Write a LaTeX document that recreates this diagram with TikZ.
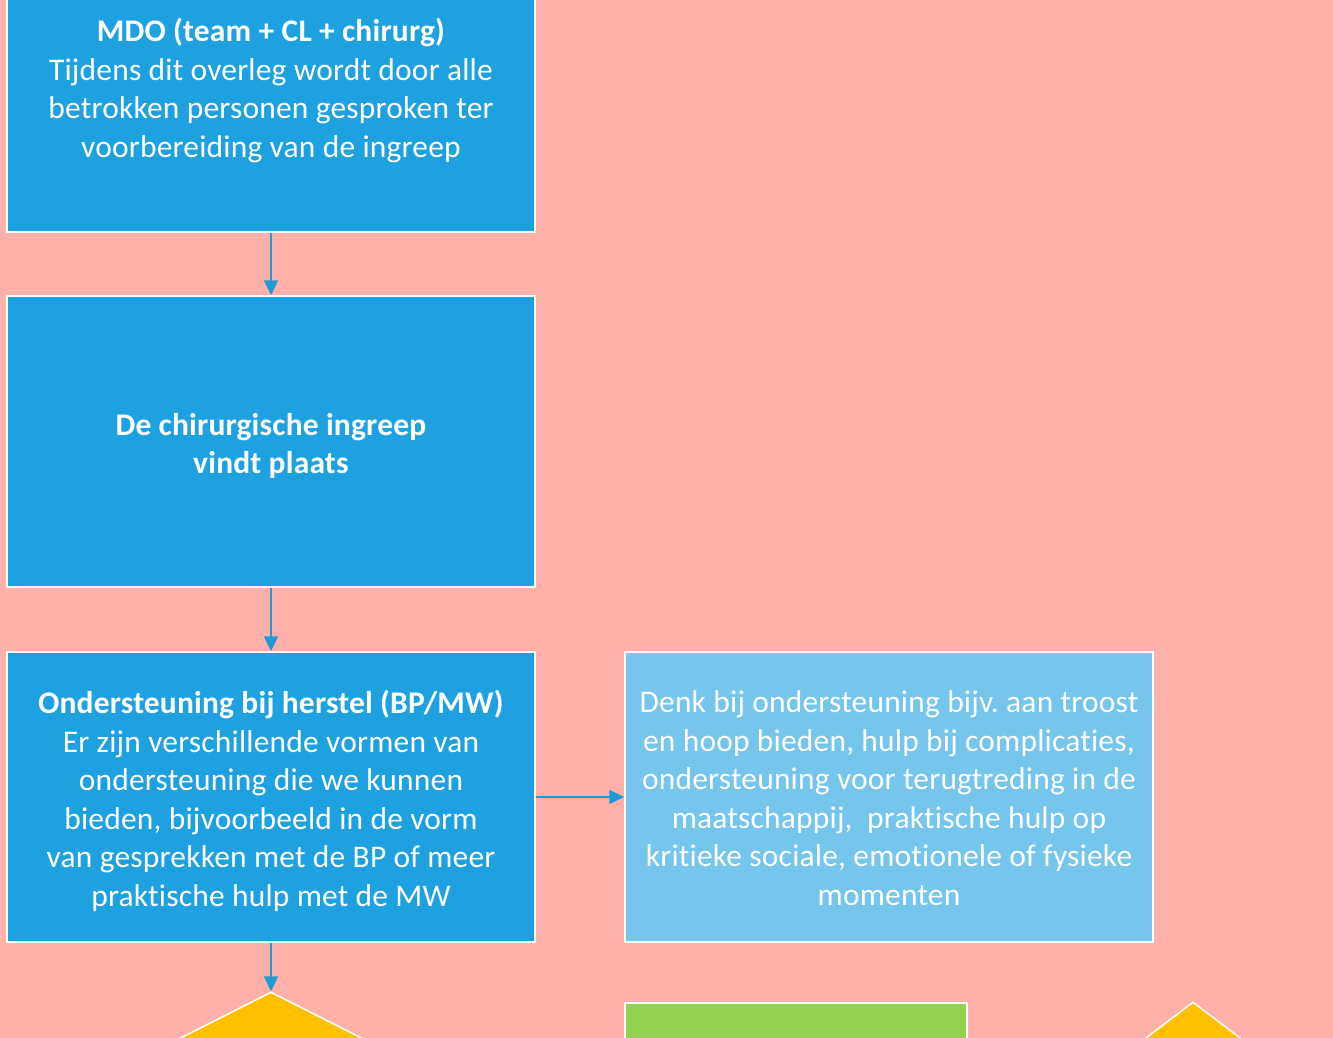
\documentclass[tikz,border=0pt]{standalone}
\usepackage{fontspec}
\setmainfont{Carlito}[Ligatures={NoCommon},LetterSpace=0.6]
\usetikzlibrary{arrows.meta,shapes.geometric}
\definecolor{bgpink}{HTML}{FFB0A8}
\definecolor{boxblue}{HTML}{1DA1E0}
\definecolor{lightblue}{HTML}{75C5EC}
\definecolor{arrblue}{HTML}{1E9AD6}
\definecolor{ygold}{HTML}{FFC000}
\definecolor{lgreen}{HTML}{92D050}
\newcommand{\topstrut}{\rule{0pt}{31pt}}
\newcommand{\botstrut}{\rule[-7pt]{0pt}{7pt}}
\begin{document}
\frenchspacing
\begin{tikzpicture}[x=1pt,y=-1pt,
  box/.style={draw=white, line width=1.5pt, text=white, align=center,
    font=\fontsize{31.5}{38.5}\selectfont, inner sep=0pt,
    minimum width=528pt, minimum height=290pt},
  arr/.style={draw=arrblue, line width=1.5pt, -{Triangle[length=15pt,width=14pt]}},
  dia/.style={diamond, draw=white, line width=1.5pt, fill=ygold, inner sep=0pt}
]
\useasboundingbox (0,0) rectangle (1333,1038);
\clip (0,0) rectangle (1333,1038);
\fill[bgpink] (0,0) rectangle (1333,1038);

\node[box, fill=boxblue, minimum height=291pt] (b1) at (271,86.5)
  {\topstrut\textbf{MDO (team + CL + chirurg)}\\Tijdens dit overleg wordt door alle\\betrokken personen gesproken ter\\voorbereiding van de ingreep};
\node[box, fill=boxblue, minimum height=291pt] (b2) at (271,441.5)
  {\topstrut\textbf{De chirurgische ingreep}\\\textbf{vindt plaats}};
\node[box, fill=boxblue] (b3) at (271,797)
  {\topstrut\textbf{Ondersteuning bij herstel (BP/MW)}\\Er zijn verschillende vormen van\\ondersteuning die we kunnen\\bieden, bijvoorbeeld in de vorm\\van gesprekken met de BP of meer\\praktische hulp met de MW};
\node[box, fill=lightblue] (b4) at (889,797)
  {\topstrut Denk bij ondersteuning bijv. aan troost\\en hoop bieden, hulp bij complicaties,\\ondersteuning voor terugtreding in de\\maatschappij,\ \ praktische hulp op\\kritieke sociale, emotionele of fysieke\\momenten\botstrut};

\node[dia, minimum width=534pt, minimum height=270pt] (d1) at (271,1127) {};
\node[box, fill=lgreen, minimum width=342pt, minimum height=200pt] (g1) at (796,1103) {};
\node[dia, minimum width=264pt, minimum height=200pt] (d2) at (1193,1102) {};

\draw[arr] (b1.south) -- (b2.north);
\draw[arr] (b2.south) -- (b3.north);
\draw[arr] (b3.south) -- (d1.north);
\draw[arr] (b3.east) -- (b4.west);
\end{tikzpicture}
\end{document}
